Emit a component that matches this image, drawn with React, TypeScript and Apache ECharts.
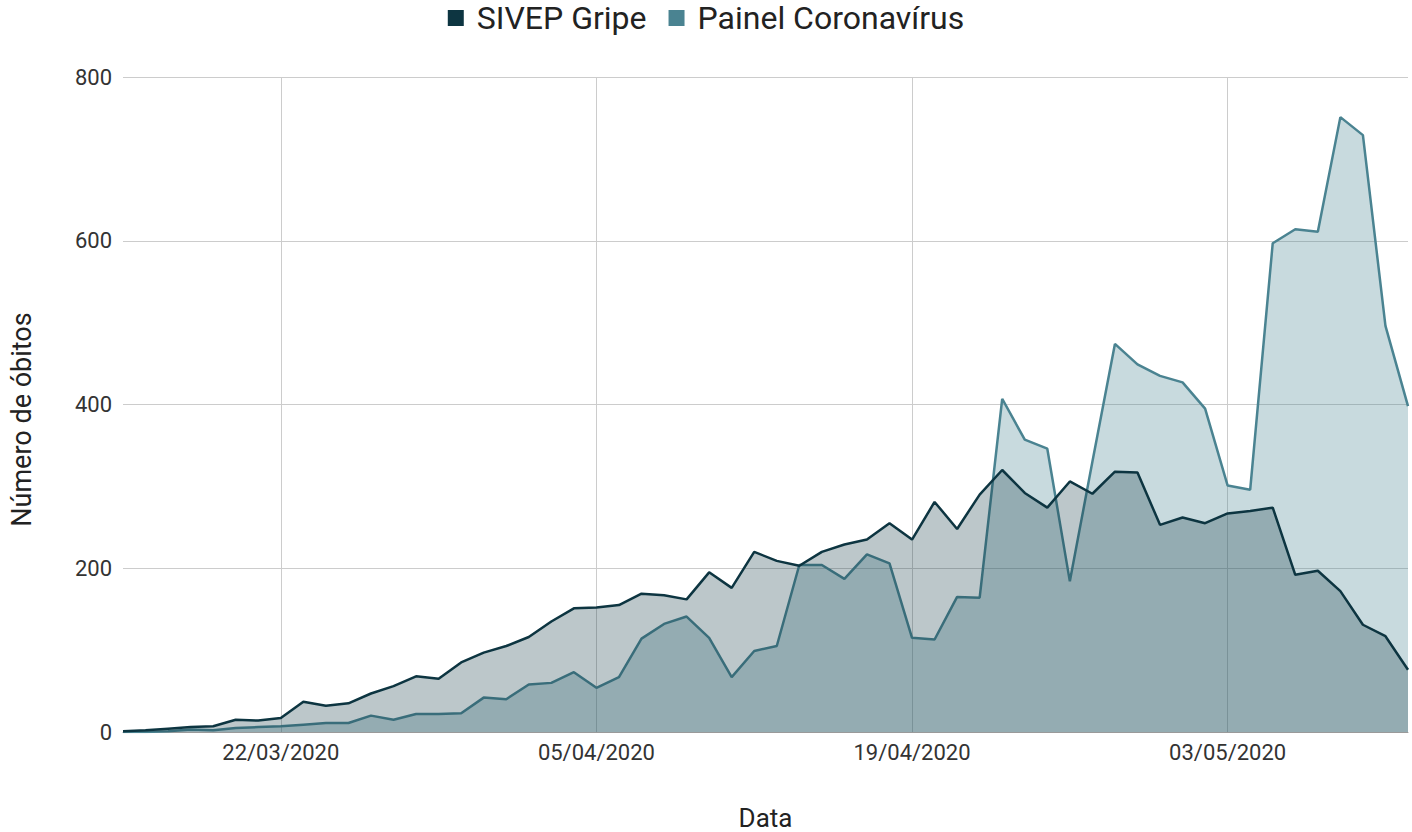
import React, { useEffect, useRef } from "react";
import * as echarts from "echarts";

const dates = [
  "15/03/2020", "16/03/2020", "17/03/2020", "18/03/2020", "19/03/2020", "20/03/2020", "21/03/2020",
  "22/03/2020", "23/03/2020", "24/03/2020", "25/03/2020", "26/03/2020", "27/03/2020", "28/03/2020",
  "29/03/2020", "30/03/2020", "31/03/2020", "01/04/2020", "02/04/2020", "03/04/2020", "04/04/2020",
  "05/04/2020", "06/04/2020", "07/04/2020", "08/04/2020", "09/04/2020", "10/04/2020", "11/04/2020",
  "12/04/2020", "13/04/2020", "14/04/2020", "15/04/2020", "16/04/2020", "17/04/2020", "18/04/2020",
  "19/04/2020", "20/04/2020", "21/04/2020", "22/04/2020", "23/04/2020", "24/04/2020", "25/04/2020",
  "26/04/2020", "27/04/2020", "28/04/2020", "29/04/2020", "30/04/2020", "01/05/2020", "02/05/2020",
  "03/05/2020", "04/05/2020", "05/05/2020", "06/05/2020", "07/05/2020", "08/05/2020", "09/05/2020",
  "10/05/2020", "11/05/2020",
];

const sivepGripe = [
  1, 2, 4, 6, 7, 15, 14, 17, 37, 32, 35, 47, 56, 68, 65, 85,
  97, 105, 116, 135, 151, 152, 155, 169, 167, 162, 195, 176, 220, 209, 203,
  220, 229, 235, 255, 235, 281, 248, 290, 320, 292, 274, 306, 291,
  318, 317, 253, 262, 255, 267, 270, 274, 192, 197, 172, 131, 117, 76,
];

const painelCoronavirus = [
  0, 0, 1, 3, 2, 5, 6, 7, 9, 11, 11, 20, 15, 22, 22, 23,
  42, 40, 58, 60, 73, 54, 67, 114, 132, 141, 115, 67, 99, 105, 204,
  204, 187, 217, 206, 115, 113, 165, 164, 407, 357, 346, 184, 330,
  474, 449, 435, 427, 395, 301, 296, 597, 614, 611, 751, 729, 496, 398,
];

const yTicks = { min: 0, max: 800, interval: 200 };

const DARK = "#0d3541";
const TEAL = "#4a8391";
const FONT = "Roboto";

export default function App() {
  const ref = useRef<HTMLDivElement>(null);

  useEffect(() => {
    if (!ref.current) return;
    const chart = echarts.init(ref.current, null, { renderer: "svg" });
    const showIdx = (i: number) => (i - 7) % 14 === 0;
    chart.setOption({
      animation: false,
      textStyle: { fontFamily: FONT },
      legend: {
        top: -3,
        left: "center",
        icon: "rect",
        itemWidth: 16,
        itemHeight: 16,
        itemGap: 22,
        textStyle: { fontSize: 32, color: "#222", fontFamily: FONT, padding: [0, 0, 0, 8] },
        data: ["SIVEP Gripe", "Painel Coronavírus"],
      },
      grid: {
        left: 123,
        right: 4,
        top: 77,
        bottom: 100,
        containLabel: false,
        outerBoundsMode: "none",
      },
      xAxis: {
        type: "category",
        data: dates,
        boundaryGap: false,
        name: "Data",
        nameLocation: "middle",
        nameGap: 73,
        nameTextStyle: { fontSize: 26, lineHeight: 26, color: "#222", fontFamily: FONT },
        axisTick: { show: false },
        axisLine: { show: true, lineStyle: { color: "#9a9a9a", width: 1 } },
        axisLabel: {
          interval: (i: number) => showIdx(i),
          fontSize: 22,
          color: "#333",
          margin: 9,
          fontFamily: FONT,
        },
        splitLine: {
          show: true,
          interval: (i: number) => showIdx(i),
          lineStyle: { color: "#cccccc", width: 1 },
        },
      },
      yAxis: {
        type: "value",
        min: yTicks.min,
        max: yTicks.max,
        interval: yTicks.interval,
        name: "Número de óbitos",
        nameLocation: "middle",
        nameGap: 88,
        nameTextStyle: { fontSize: 27, color: "#222", fontFamily: FONT, padding: [0, 30, 0, 0] },
        axisLine: { show: false },
        axisTick: { show: false },
        axisLabel: { fontSize: 22, color: "#333", margin: 11, fontFamily: FONT },
        splitLine: { show: true, lineStyle: { color: "#cccccc", width: 1 } },
      },
      series: [
        {
          name: "SIVEP Gripe",
          type: "line",
          data: sivepGripe,
          symbol: "none",
          itemStyle: { color: DARK },
          lineStyle: { color: DARK, width: 2.5 },
          areaStyle: { color: DARK, opacity: 0.28 },
          z: 3,
        },
        {
          name: "Painel Coronavírus",
          type: "line",
          data: painelCoronavirus,
          symbol: "none",
          itemStyle: { color: TEAL },
          lineStyle: { color: TEAL, width: 2.5 },
          areaStyle: { color: TEAL, opacity: 0.3 },
          z: 2,
        },
      ],
    });
    return () => chart.dispose();
  }, []);

  return (
    <div
      ref={ref}
      style={{ position: "fixed", left: 0, top: 0, width: 1412, height: 832, background: "#fff" }}
    />
  );
}
